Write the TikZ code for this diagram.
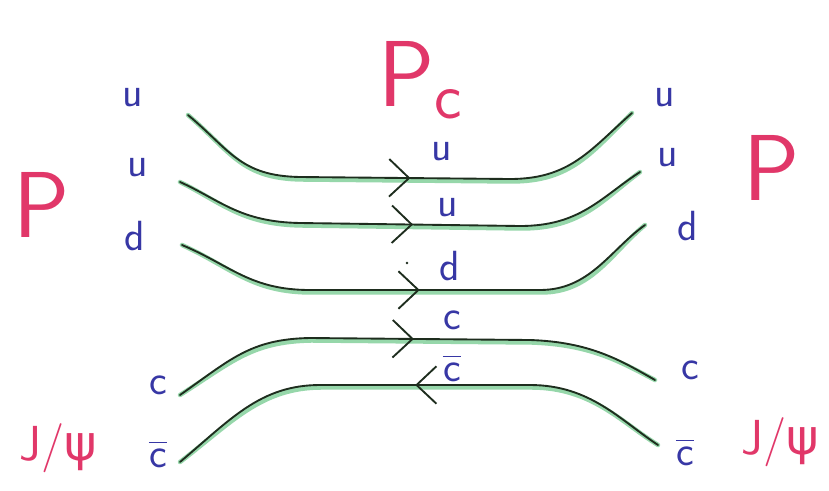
\documentclass[tikz,border=0pt]{standalone}
\usepackage{fontspec}
\newfontfamily\greekfont{DejaVu Sans}
\usetikzlibrary{arrows.meta,decorations.markings}
\definecolor{inkblue}{RGB}{55,55,165}
\definecolor{inkred}{RGB}{225,55,105}
\definecolor{inkline}{RGB}{30,45,30}
\definecolor{halo}{RGB}{150,215,170}
\tikzset{
  quark/.style={font=\sffamily\fontsize{36}{38}\selectfont, text=inkblue, inner sep=0pt},
  hadron/.style={font=\sffamily\fontsize{80}{84}\selectfont, text=inkred, inner sep=0pt},
  jpsi/.style={font=\sffamily\fontsize{42}{44}\selectfont, text=inkred, inner sep=0pt},
  barline/.style={draw=inkblue, line width=1.4pt},
  haloline/.style={draw=halo, line width=3.8pt, line cap=round, shift={(1.5,2.5)}},
  inkpath/.style={draw=inkline, line width=1.6pt, line cap=round},
  fwd/.style={postaction={decorate, decoration={markings, mark=at position 0.5 with {\arrow[inkline, line width=1.6pt]{Straight Barb[length=17pt,width=32pt]}}}}},
  bwd/.style={postaction={decorate, decoration={markings, mark=at position 0.5 with {\arrowreversed[inkline, line width=1.6pt]{Straight Barb[length=17pt,width=32pt]}}}}}
}
\begin{document}
\begin{tikzpicture}[x=0.03cm, y=-0.03cm]
\useasboundingbox[fill=white] (0,0) rectangle (829,490);

% end points
\coordinate (a1) at (188,115); \coordinate (b1) at (632,113);
\coordinate (a2) at (180,182); \coordinate (b2) at (640,172);
\coordinate (a3) at (182,245); \coordinate (b3) at (645,225);
\coordinate (a4) at (180,395); \coordinate (b4) at (655,380);
\coordinate (a5) at (180,462); \coordinate (b5) at (658,445);

% green halos
\path[haloline] (a1) .. controls (230,150) and (240,176) .. (300,177) -- (510,179) .. controls (570,179) and (590,150) .. (b1);
\path[haloline] (a2) .. controls (220,200) and (240,222) .. (300,223) -- (520,226) .. controls (580,226) and (600,198) .. (b2);
\path[haloline] (a3) .. controls (230,265) and (250,290) .. (310,290) -- (540,290) .. controls (590,290) and (610,250) .. (b3);
\path[haloline] (a4) .. controls (230,360) and (250,339) .. (310,338) -- (530,340) .. controls (590,342) and (620,360) .. (b4);
\path[haloline] (a5) .. controls (230,420) and (260,385) .. (320,385) -- (530,385) .. controls (590,385) and (620,420) .. (b5);

% quark lines
\path[inkpath, fwd] (a1) .. controls (230,150) and (240,176) .. (300,177) -- (510,179) .. controls (570,179) and (590,150) .. (b1);
\path[inkpath, fwd] (a2) .. controls (220,200) and (240,222) .. (300,223) -- (520,226) .. controls (580,226) and (600,198) .. (b2);
\path[inkpath, fwd] (a3) .. controls (230,265) and (250,290) .. (310,290) -- (540,290) .. controls (590,290) and (610,250) .. (b3);
\path[inkpath, fwd] (a4) .. controls (230,360) and (250,339) .. (310,338) -- (530,340) .. controls (590,342) and (620,360) .. (b4);
\path[inkpath, bwd] (a5) .. controls (230,420) and (260,385) .. (320,385) -- (530,385) .. controls (590,385) and (620,420) .. (b5);

% left quark labels
\node[quark] (lu1) at (133,98) {u};
\node[quark] (lu2) at (138,168) {u};
\node[quark] (ld)  at (135,236) {d};
\node[quark] (lc)  at (158,385) {c};
\node[quark] (lcb) at (158,458) {c};

% centre quark labels
\node[quark] (cu1) at (442,152) {u};
\node[quark] (cu2) at (448,208) {u};
\node[quark] (cd)  at (450,266) {d};
\node[quark] (cc)  at (452,320) {c};
\node[quark] (ccb) at (452,372) {c};
\fill[inkline] (407,263) circle (1.3);

% right quark labels
\node[quark] (ru1) at (665,98) {u};
\node[quark] (ru2) at (668,158) {u};
\node[quark] (rd)  at (688,226) {d};
\node[quark] (rc)  at (690,370) {c};
\node[quark] (rcb) at (685,456) {c};

% anti-quark bars
\draw[barline] ([yshift=5pt]lcb.north west) -- ([yshift=5pt]lcb.north east);
\draw[barline] ([yshift=5pt]ccb.north west) -- ([yshift=5pt]ccb.north east);
\draw[barline] ([yshift=5pt]rcb.north west) -- ([yshift=5pt]rcb.north east);

% hadron labels
\node[hadron] (pl) at (42,205) {P};
\node[hadron] (pr) at (772,168) {P};
\node[hadron] (pc) at (420,80) {P\raisebox{-0.3ex}{\fontsize{56}{58}\selectfont c}};
\node[jpsi] (jl) at (58,448) {J/{\greekfont ψ}};
\node[jpsi] (jr) at (780,442) {J/{\greekfont ψ}};
\end{tikzpicture}
\end{document}
